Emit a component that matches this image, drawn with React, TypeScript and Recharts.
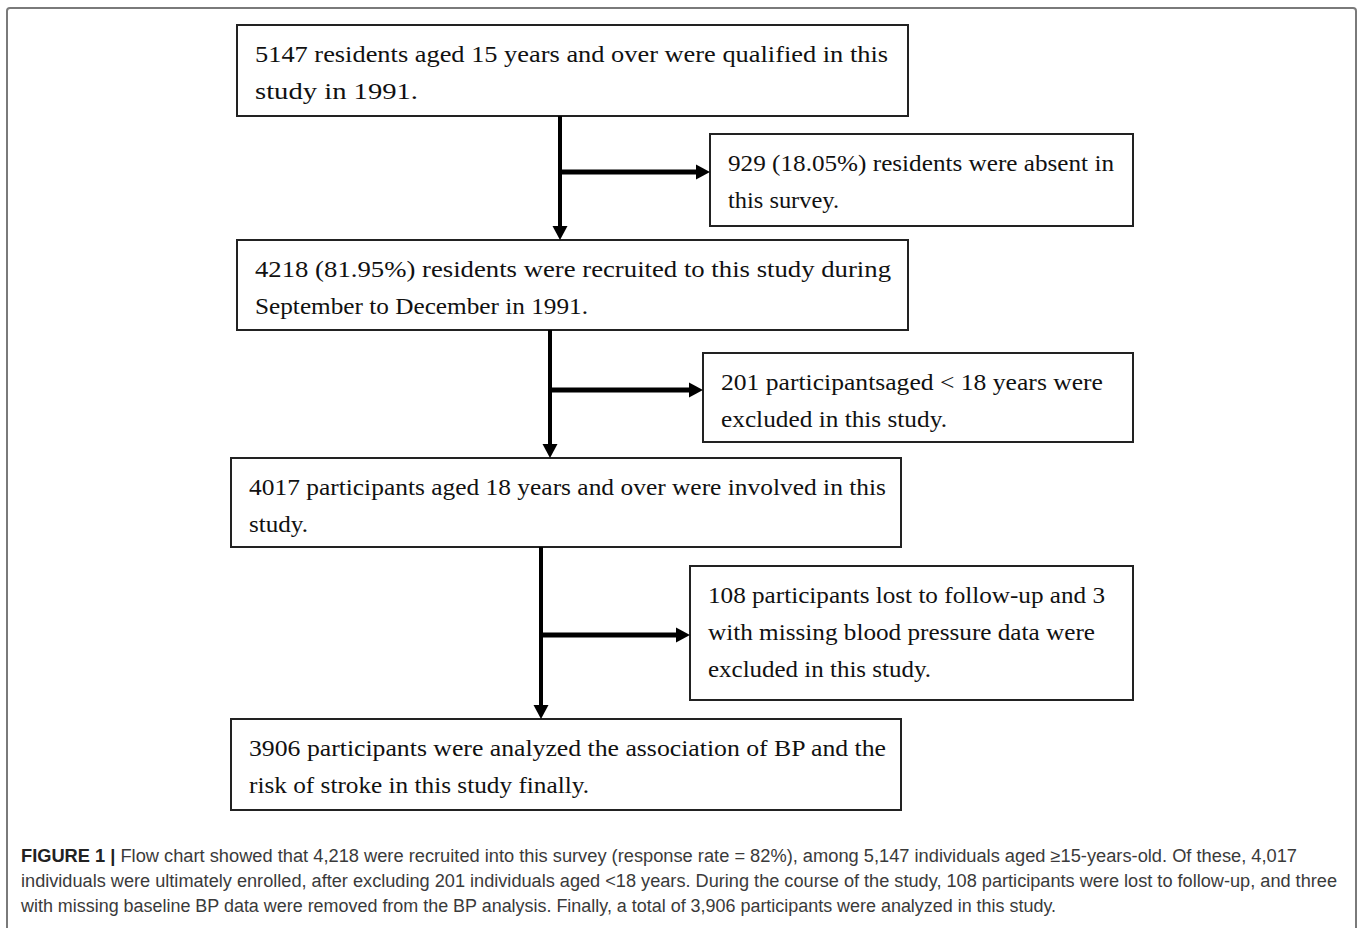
import { ScatterChart, Scatter, XAxis, YAxis, ReferenceArea, ReferenceLine } from 'recharts';

const W = 1357;
const H = 928;

// text of each box, top to bottom / left to right
const boxLines = [
  ['5147 residents aged 15 years and over were qualified in this', 'study in 1991.'],
  ['929 (18.05%) residents were absent in', 'this survey.'],
  ['4218 (81.95%) residents were recruited to this study during', 'September to December in 1991.'],
  ['201 participantsaged < 18 years were', 'excluded in this study.'],
  ['4017 participants aged 18 years and over were involved in this', 'study.'],
  ['108 participants lost to follow-up and 3', 'with missing blood pressure data were', 'excluded in this study.'],
  ['3906 participants were analyzed the association of BP and the', 'risk of stroke in this study finally.'],
];
const boxLineWidths = [
  [633, 163],
  [386, 111],
  [636, 333],
  [382, 226],
  [637, 59],
  [397, 387, 223],
  [637, 340],
];

// box edges in layout units
const boxLeft = [237, 710, 237, 703, 231, 690, 231];
const boxRight = [908, 1133, 908, 1133, 901, 1133, 901];
const boxTop = [25, 134, 240, 353, 458, 566, 719];
const boxBottom = [116, 226, 330, 442, 547, 700, 810];

// connectors: main trunk + side branch for each step
const trunkX = [560, 550, 541];
const trunkTop = [116, 330, 547];
const trunkBottom = [240, 458, 719];
const branchY = [172, 390, 635];
const branchEnd = [710, 703, 690];

const captionLines = [
  'Flow chart showed that 4,218 were recruited into this survey (response rate = 82%), among 5,147 individuals aged \u226515-years-old. Of these, 4,017',
  'individuals were ultimately enrolled, after excluding 201 individuals aged <18 years. During the course of the study, 108 participants were lost to follow-up, and three',
  'with missing baseline BP data were removed from the BP analysis. Finally, a total of 3,906 participants were analyzed in this study.',
];
const captionWidths = [1276, 1316, 1035];

const arrowTips = [
  ...trunkX.map((x, i) => ({ x, y: trunkBottom[i], dir: 'down' })),
  ...branchEnd.map((x, i) => ({ x, y: branchY[i], dir: 'right' })),
];

const HEAD = 14;

const ArrowHead = (props: any) => {
  const { cx, cy, payload } = props;
  const pts =
    payload.dir === 'down'
      ? `${cx - 7.5},${cy - HEAD} ${cx + 7.5},${cy - HEAD} ${cx},${cy}`
      : `${cx - HEAD},${cy - 7.5} ${cx - HEAD},${cy + 7.5} ${cx},${cy}`;
  return <polygon points={pts} fill="#000" />;
};

const boxText = (i: number) => (props: any) => {
  const { x, y } = props.viewBox;
  return (
    <g>
      {boxLines[i].map((line, j) => (
        <text
          key={j}
          x={x + 18}
          y={y + 29 + j * 37}
          dominantBaseline="central"
          fontFamily="'Liberation Serif', 'Times New Roman', serif"
          fontSize={24}
          fill="#111"
          textLength={boxLineWidths[i][j]}
          lengthAdjust="spacingAndGlyphs"
        >
          {line}
        </text>
      ))}
    </g>
  );
};

const captionText = (props: any) => {
  const { x, y } = props.viewBox;
  return (
    <g>
      {captionLines.map((line, j) => (
        <text
          key={j}
          x={x}
          y={y + j * 25}
          dominantBaseline="central"
          fontFamily="'Liberation Sans', Arial, sans-serif"
          fontSize={18}
          fill="#3a3a3a"
          textLength={captionWidths[j]}
          lengthAdjust="spacingAndGlyphs"
        >
          {j === 0 && (
            <tspan fontWeight="bold" fill="#222">
              FIGURE 1 |{' '}
            </tspan>
          )}
          {line}
        </text>
      ))}
    </g>
  );
};

export default function App() {
  return (
    <div style={{ position: 'absolute', left: 0, top: 0, width: W, height: H, background: '#fff', overflow: 'hidden' }}>
      <div
        style={{
          position: 'absolute',
          left: 6,
          top: 7,
          width: W - 6,
          height: H + 4,
          border: '2px solid #7a7a7a',
          borderRadius: 4,
          boxSizing: 'border-box',
        }}
      />
      <div style={{ position: 'absolute', left: 0, top: 0 }}>
        <ScatterChart width={W} height={H} margin={{ top: 0, right: 0, bottom: 0, left: 0 }}>
          <XAxis type="number" dataKey="x" domain={[0, W]} hide allowDataOverflow />
          <YAxis type="number" dataKey="y" domain={[0, H]} reversed hide allowDataOverflow />
          {boxLines.map((_, i) => (
            <ReferenceArea
              key={`box-${i}`}
              x1={boxLeft[i]}
              x2={boxRight[i]}
              y1={boxTop[i]}
              y2={boxBottom[i]}
              fill="#fff"
              fillOpacity={1}
              stroke="#222"
              strokeWidth={2}
              label={boxText(i)}
            />
          ))}
          {trunkX.map((x, i) => (
            <ReferenceLine
              key={`trunk-${i}`}
              segment={[
                { x, y: trunkTop[i] },
                { x, y: trunkBottom[i] - HEAD + 1 },
              ]}
              stroke="#000"
              strokeWidth={4}
            />
          ))}
          {branchY.map((y, i) => (
            <ReferenceLine
              key={`branch-${i}`}
              segment={[
                { x: trunkX[i], y },
                { x: branchEnd[i] - HEAD + 1, y },
              ]}
              stroke="#000"
              strokeWidth={5}
            />
          ))}
          <Scatter data={arrowTips} shape={ArrowHead} isAnimationActive={false} />
          <ReferenceArea
            x1={21}
            x2={1340}
            y1={856}
            y2={920}
            fill="none"
            stroke="none"
            label={captionText}
          />
        </ScatterChart>
      </div>
    </div>
  );
}
